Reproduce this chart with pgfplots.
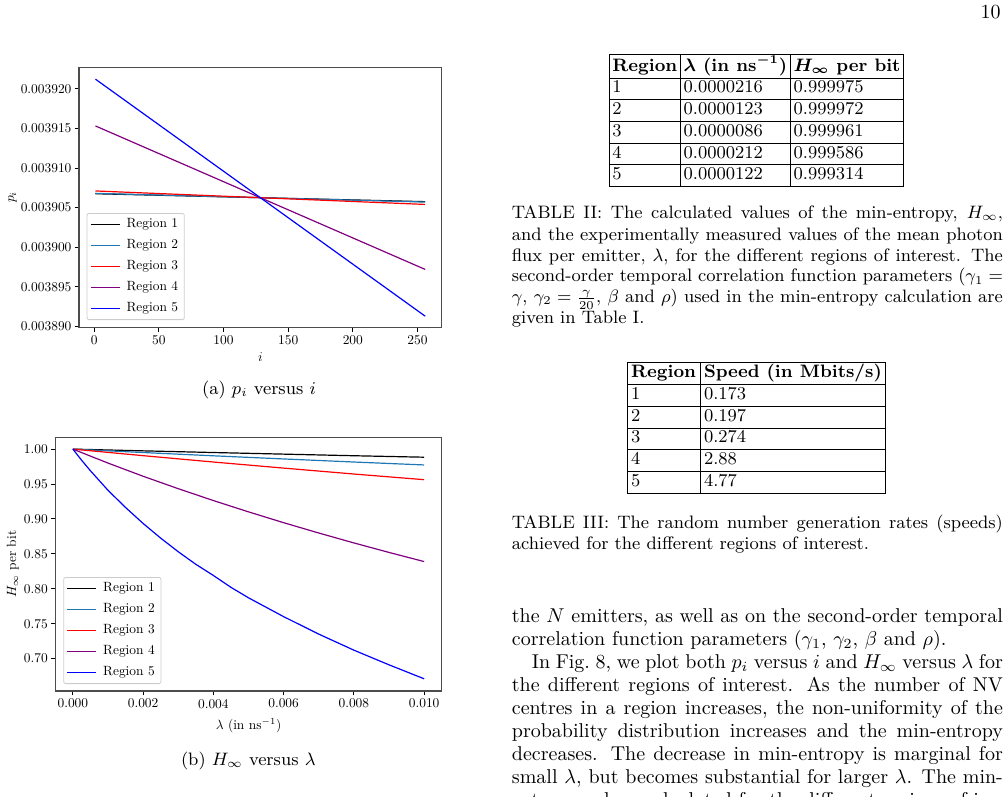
\documentclass[border=0pt]{standalone}
\usepackage{graphicx}
\usepackage{pgfplots}
\pgfplotsset{compat=1.18}
\usepackage{amsmath}
\definecolor{tabblue}{HTML}{1F77B4}
\definecolor{mpurple}{HTML}{800080}
\newcommand{\sm}[1]{\scalebox{0.67}{#1}}
\newcommand{\capfont}{\fontsize{9}{10.5}\selectfont}
\pgfplotsset{
  mystyle/.style={
    scale only axis,
    axis line style={black!70, line width=0.6pt},
    tick style={black, line width=0.45pt},
    tick align=outside,
    major tick length=2.2pt,
    tick pos=left,
    xticklabel style={inner sep=1.6pt},
    yticklabel style={inner sep=1.4pt},
    scaled ticks=false,
    legend cell align=left,
    legend style={draw=black!20, rounded corners=1pt, fill=white,
      anchor=south west, inner xsep=1.5pt, inner ysep=0.8pt, row sep=1.25pt},
    every axis plot/.append style={line width=0.6pt, no marks},
  }
}
\begin{document}
\begin{tikzpicture}[x=0.5pt,y=0.5pt]
\useasboundingbox (0,0) rectangle (1007,-797);
\clip (0,0) rectangle (1007,-797);

% ---------- plot (a)
\begin{axis}[mystyle, at={(39.5pt,-163.65pt)}, anchor=south west,
  width=181.35pt, height=130pt,
  xmin=-11.75, xmax=268.75, ymin=0.0038899, ymax=0.0039227,
  xtick={0,50,100,150,200,250},
  xticklabels={\sm{0},\sm{50},\sm{100},\sm{150},\sm{200},\sm{250}},
  ytick={0.00389,0.003895,0.0039,0.003905,0.00391,0.003915,0.00392},
  yticklabels={\sm{0.003890},\sm{0.003895},\sm{0.003900},\sm{0.003905},\sm{0.003910},\sm{0.003915},\sm{0.003920}},
  xlabel={\sm{$i$}}, ylabel={\sm{$p_i$}},
  xlabel style={at={(axis description cs:0.5,-0.113)}, anchor=center},
  ylabel style={at={(axis description cs:-0.183,0.5)}, anchor=center},
  legend style={at={(0.0212,0.028)}, nodes={inner sep=1.6pt, text height=4.6pt, text depth=1.5pt}},
  legend image code/.code={\draw[#1, line width=0.7pt] (0pt,0pt) -- (14.5pt,0pt); \path (16pt,0pt);},
]
\addplot[black] coordinates {(1,0.00390675) (256,0.00390575)};
\addlegendentry{\sm{Region 1}}
\addplot[tabblue] coordinates {(1,0.0039068) (256,0.0039057)};
\addlegendentry{\sm{Region 2}}
\addplot[red] coordinates {(1,0.0039071) (256,0.0039054)};
\addlegendentry{\sm{Region 3}}
\addplot[mpurple] coordinates {(1,0.0039153) (256,0.0038972)};
\addlegendentry{\sm{Region 4}}
\addplot[blue] coordinates {(1,0.0039212) (256,0.0038913)};
\addlegendentry{\sm{Region 5}}
\end{axis}

% ---------- plot (b)
\begin{axis}[mystyle, at={(27.65pt,-345.5pt)}, anchor=south west,
  width=193.2pt, height=126.85pt,
  xmin=-0.0005, xmax=0.0105, ymin=0.6535, ymax=1.0169,
  xtick={0,0.002,0.004,0.006,0.008,0.01},
  xticklabels={\sm{0.000},\sm{0.002},\sm{0.004},\sm{0.006},\sm{0.008},\sm{0.010}},
  ytick={0.65,0.7,0.75,0.8,0.85,0.9,0.95,1.0},
  yticklabels={\sm{0.65},\sm{0.70},\sm{0.75},\sm{0.80},\sm{0.85},\sm{0.90},\sm{0.95},\sm{1.00}},
  xlabel={\sm{$\lambda$ (in ns$^{-1}$)}}, ylabel={\sm{$H_\infty$ per bit}},
  xlabel style={at={(axis description cs:0.5,-0.135)}, anchor=center},
  ylabel style={at={(axis description cs:-0.110,0.5)}, anchor=center},
  legend style={at={(0.0207,0.0276)}, nodes={inner sep=1.6pt, text height=4.6pt, text depth=1.5pt}},
  legend image code/.code={\draw[#1, line width=0.7pt] (0pt,0pt) -- (14.5pt,0pt); \path (16pt,0pt);},
]
\addplot[black] coordinates {(0,1) (0.002,0.9975) (0.004,0.9951) (0.006,0.9928) (0.008,0.9905) (0.01,0.9884)};
\addlegendentry{\sm{Region 1}}
\addplot[tabblue] coordinates {(0,1) (0.002,0.9951) (0.004,0.9904) (0.006,0.9859) (0.008,0.9815) (0.01,0.9773)};
\addlegendentry{\sm{Region 2}}
\addplot[red] coordinates {(0,1) (0.002,0.9906) (0.004,0.9815) (0.006,0.9728) (0.008,0.9643) (0.01,0.9562)};
\addlegendentry{\sm{Region 3}}
\addplot[mpurple] coordinates {(0,1) (0.001,0.980) (0.002,0.9611) (0.003,0.9433) (0.004,0.9263) (0.005,0.9101) (0.006,0.8946) (0.007,0.8798) (0.008,0.8656) (0.009,0.852) (0.01,0.8389)};
\addlegendentry{\sm{Region 4}}
\addplot[blue] coordinates {(0,1) (0.00025,0.984) (0.0005,0.969) (0.001,0.941) (0.0015,0.9164) (0.002,0.8935) (0.0025,0.8725) (0.003,0.853) (0.0035,0.835) (0.004,0.819) (0.0045,0.802) (0.005,0.787) (0.006,0.760) (0.007,0.735) (0.008,0.712) (0.009,0.691) (0.01,0.671)};
\addlegendentry{\sm{Region 5}}
\end{axis}

% ---------- captions of figures
\node[anchor=base, inner sep=0pt] at (259,-394.5) {\capfont (a) $p_i$ versus $i$};
\node[anchor=base, inner sep=0pt] at (248.3,-765) {\capfont (b) $H_\infty$ versus $\lambda$};

% ---------- page number
\node[anchor=base east, inner sep=0pt] at (1001,-19) {10};

% ---------- Table II
\node[anchor=north, inner sep=0pt] at (756.5,-54) {\fontsize{9}{10.45}\selectfont\setlength{\tabcolsep}{1.6pt}%
\begin{tabular}{|l|l|l|}\hline
\textbf{Region} & \bfseries\boldmath $\lambda$ (in ns$^{-1}$) & \bfseries\boldmath $H_\infty$ per bit\\\hline
1 & 0.0000216 & 0.999975\\\hline
2 & 0.0000123 & 0.999972\\\hline
3 & 0.0000086 & 0.999961\\\hline
4 & 0.0000212 & 0.999586\\\hline
5 & 0.0000122 & 0.999314\\\hline
\end{tabular}};

\node[anchor=base west, inner sep=0pt] at (511.5,-219) {\parbox[t]{245.5pt}{\capfont\tolerance=9999\hbadness=10000
TABLE II: The calculated values of the min-entropy, $H_\infty$,\linebreak
and the experimentally measured values of the mean photon\linebreak
flux per emitter, $\lambda$, for the different regions of interest. The\linebreak
second-order temporal correlation function parameters ($\gamma_1 =$\linebreak
$\gamma$, $\gamma_2 = \frac{\gamma}{20}$, $\beta$ and $\rho$) used in the min-entropy calculation are\linebreak
given in Table I.}};

% ---------- Table III
\node[anchor=north, inner sep=0pt] at (756.5,-362) {\fontsize{9}{10.45}\selectfont\setlength{\tabcolsep}{2pt}%
\begin{tabular}{|l|l|}\hline
\textbf{Region} & \textbf{Speed (in Mbits/s)}\\\hline
1 & 0.173\\\hline
2 & 0.197\\\hline
3 & 0.274\\\hline
4 & 2.88\\\hline
5 & 4.77\\\hline
\end{tabular}};

\node[anchor=base west, inner sep=0pt] at (511.5,-528.3) {\parbox[t]{245.5pt}{\capfont\tolerance=9999\hbadness=10000
TABLE III: The random number generation rates (speeds)\linebreak
achieved for the different regions of interest.}};

% ---------- body text
\node[anchor=base west, inner sep=0pt] at (511.5,-622) {\parbox[t]{245.5pt}{\fontsize{10}{11.5}\selectfont\tolerance=9999\hbadness=10000\setlength{\parindent}{10pt}%
\noindent the $N$ emitters, as well as on the second-order temporal\linebreak
correlation function parameters ($\gamma_1$, $\gamma_2$, $\beta$ and $\rho$).\par
In Fig.~8, we plot both $p_i$ versus $i$ and $H_\infty$ versus $\lambda$ for\linebreak
the different regions of interest.  As the number of NV\linebreak
centres in a region increases, the non-uniformity of the\linebreak
probability distribution increases and the min-entropy\linebreak
decreases.  The decrease in min-entropy is marginal for\linebreak
small $\lambda$, but becomes substantial for larger $\lambda$. The min-\linebreak
entropy values calculated for the different regions of in-}};
\end{tikzpicture}
\end{document}
